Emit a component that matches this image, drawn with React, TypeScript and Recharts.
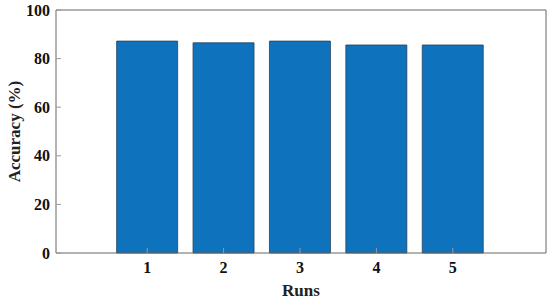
import { BarChart, Bar, XAxis, YAxis, CartesianGrid } from 'recharts';

const runs = ['1', '2', '3', '4', '5'];
const accuracy = [87.2, 86.5, 87.2, 85.6, 85.6];
const yTicks = [0, 20, 40, 60, 80, 100];

const data = runs.map((run, i) => ({ run, accuracy: accuracy[i] }));

const font = '"Liberation Serif", "Times New Roman", serif';
const tickStyle = { fill: '#111', fontSize: 16, fontWeight: 700, fontFamily: font };
const labelStyle = { fill: '#222', fontSize: 17, fontWeight: 700, fontFamily: font, textAnchor: 'middle' as const };
const axisColor = '#666';

export default function App() {
  return (
    <div style={{ position: 'absolute', left: 0, top: 0, width: 550, height: 300, background: '#fff' }}>
      <BarChart
        width={550}
        height={300}
        data={data}
        margin={{ top: 10, right: 4, bottom: 0, left: 0 }}
        barCategoryGap="10%"
      >
        {/* box outline: top and right edges */}
        <CartesianGrid
          stroke={axisColor}
          horizontalCoordinatesGenerator={({ offset }: any) => [offset.top]}
          verticalCoordinatesGenerator={({ offset }: any) => [offset.left + offset.width]}
        />
        <XAxis
          dataKey="run"
          height={47}
          padding={{ left: 53, right: 55 }}
          tick={tickStyle}
          tickSize={-5}
          tickMargin={14}
          stroke={axisColor}
          tickLine={{ stroke: '#999' }}
          label={{ value: 'Runs', position: 'insideBottom', offset: 4, style: labelStyle }}
        />
        <YAxis
          domain={[0, 100]}
          ticks={yTicks}
          width={56}
          tick={tickStyle}
          tickSize={-5}
          tickMargin={11}
          stroke={axisColor}
          tickLine={{ stroke: '#999' }}
          label={{ value: 'Accuracy (%)', angle: -90, position: 'insideLeft', offset: 14, style: labelStyle }}
        />
        <Bar
          dataKey="accuracy"
          fill="#0f72bd"
          stroke="#24435f"
          strokeWidth={0.8}
          isAnimationActive={false}
        />
      </BarChart>
    </div>
  );
}
